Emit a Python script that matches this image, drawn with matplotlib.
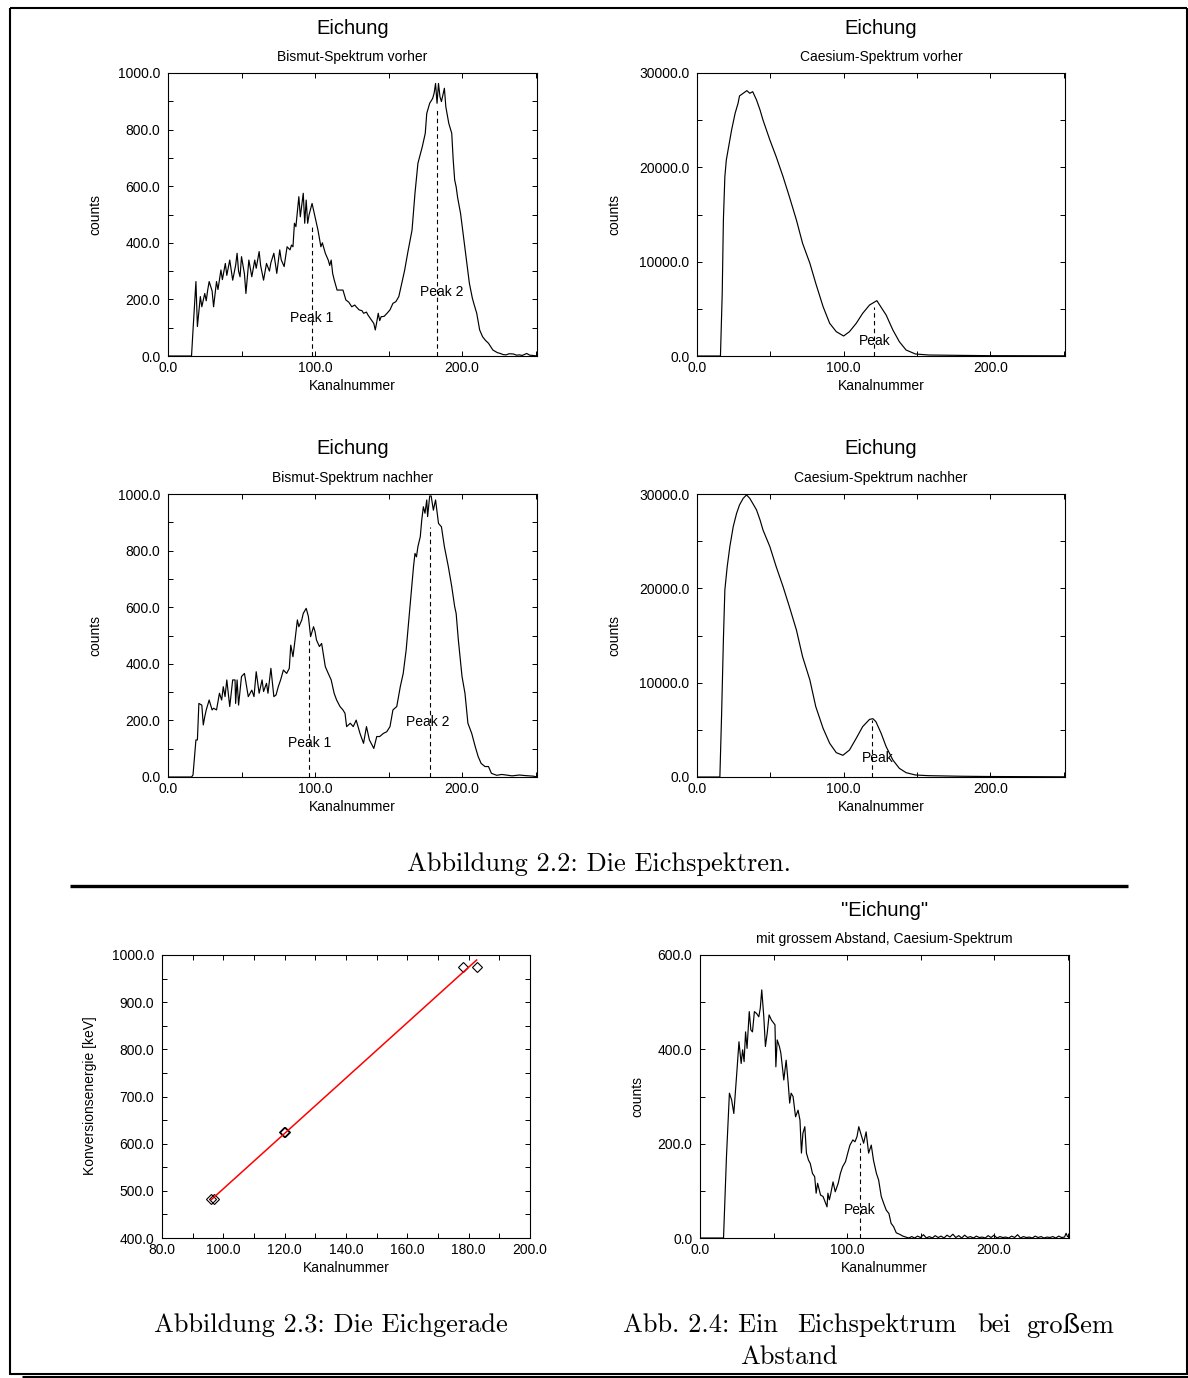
import numpy as np
import matplotlib.pyplot as plt
from matplotlib.ticker import MultipleLocator, FormatStrFormatter

plt.rcParams['font.family'] = ['Liberation Sans', 'DejaVu Sans']

W, H = 1188, 1378
SERIF = ['cmr10', 'DejaVu Serif']
CAP = 19

# Bismut-Spektrum vorher
bi_vor_ch = [0, 16, 17, 19, 20, 22, 23, 25, 26, 27, 28, 30, 31, 33, 34, 36, 37, 39, 40, 42,
             44, 46, 47, 48, 49, 50, 52, 53, 55, 57, 59, 60, 62, 63, 65, 67, 69, 70, 72, 74,
             76, 77, 79, 81, 83, 84, 85, 86, 87, 89, 90, 92, 93, 94, 95, 96, 98, 100, 102, 104,
             105, 107, 109, 110, 111, 112, 113, 115, 117, 119, 120, 121, 123, 125, 127, 128, 130, 132, 133, 135,
             136, 138, 140, 141, 142, 143, 144, 145, 147, 149, 151, 153, 155, 157, 158, 160, 161, 163, 166, 168,
             170, 173, 175, 176, 178, 180, 181, 182, 183, 184, 185, 186, 188, 189, 191, 193, 194, 195, 196, 197,
             199, 201, 203, 205, 207, 208, 210, 212, 214, 216, 218, 221, 224, 226, 228, 230, 232, 235, 237, 239,
             241, 244, 246, 248, 251]
bi_vor_counts = [0, 0, 90, 263, 104, 210, 174, 221, 195, 233, 263, 230, 174, 263, 235, 304, 270, 327, 285, 339,
                 268, 320, 363, 300, 280, 351, 290, 221, 339, 280, 339, 310, 369, 320, 268, 327, 300, 330, 363, 292,
                 375, 340, 316, 386, 375, 392, 386, 469, 457, 563, 492, 575, 469, 551, 469, 500, 539, 492, 445, 386,
                 400, 363, 339, 320, 339, 292, 270, 233, 233, 233, 215, 198, 190, 174, 180, 174, 163, 160, 151, 155,
                 145, 130, 115, 92, 120, 151, 125, 139, 140, 151, 163, 186, 192, 210, 233, 280, 304, 363, 445, 575,
                 681, 740, 787, 857, 893, 910, 928, 963, 893, 963, 916, 899, 946, 880, 822, 787, 693, 622, 598, 560,
                 504, 422, 339, 257, 205, 186, 151, 92, 68, 55, 45, 21, 12, 9, 5, 4, 8, 7, 3, 4,
                 2, 9, 3, 2, 0]
bi_vor_peaks = [98, 183]
bi_vor_peak_tops = [457, 869]
bi_vor_labels = ['Peak 1', 'Peak 2']
bi_vor_label_pos = [(98, 133), (186.5, 227)]

# Bismut-Spektrum nachher
bi_nach_ch = [0, 16, 17, 19, 20, 21, 23, 24, 25, 26, 28, 30, 31, 33, 35, 36.5, 37.6, 38.8, 40, 42,
              44, 45.6, 46, 47, 48, 50, 52, 54.6, 57, 58.5, 60, 62, 64, 65, 67, 68, 70, 72, 73.5, 75,
              76.6, 78.5, 80.7, 82.5, 83.5, 85, 86.4, 88, 89, 91, 92, 94, 95.5, 97, 99, 100, 101, 103, 104.5, 107,
              109, 111, 113, 114.7, 117, 119, 120.4, 121.5, 124, 126, 128, 130.6, 133, 135, 137, 140, 142, 144, 146.5, 148.8,
              151, 153, 155.6, 158, 160, 162, 164.6, 167, 168, 169, 170, 171.6, 172.6, 173.7, 174.8, 176, 176.6, 178, 179, 180.5,
              182, 184, 186, 188, 190.7, 193, 195, 196, 197.5, 200, 202, 204, 206.6, 209, 211, 213, 215.6, 218, 220, 223.6,
              227, 230, 234, 239, 243, 248.5, 251]
bi_nach_counts = [0, 0, 7, 131, 131, 260, 254, 184, 213, 237, 272, 237, 243, 237, 296, 272, 319, 284, 343, 249,
                  343, 343, 260, 343, 254, 355, 366, 284, 307, 284, 372, 296, 343, 302, 331, 296, 384, 284, 290, 319,
                  343, 378, 366, 384, 466, 425, 484, 555, 531, 555, 578, 596, 567, 496, 531, 514, 484, 461, 472, 390,
                  366, 343, 296, 272, 249, 237, 225, 178, 190, 178, 201, 154, 119, 178, 131, 101, 143, 143, 154, 160,
                  178, 237, 249, 319, 366, 449, 602, 743, 790, 778, 814, 849, 908, 955, 932, 979, 920, 993, 993, 943,
                  979, 896, 884, 814, 743, 673, 602, 578, 484, 355, 296, 190, 154, 107, 72, 48, 37, 37, 13, 6,
                  9, 7, 4, 7, 5, 3, 0]
bi_nach_peaks = [96, 178]
bi_nach_peak_tops = [496, 884]
bi_nach_labels = ['Peak 1', 'Peak 2']
bi_nach_label_pos = [(96.6, 119), (177, 196)]

# Caesium-Spektrum vorher
cs_vor_ch = [0, 16, 17.2, 18, 19, 20, 22, 23.6, 26, 28, 29, 31.5, 34, 36, 38, 40.6, 43, 45, 49.7, 54,
             58.7, 63, 67.8, 72, 77, 81, 86, 90.5, 95, 100, 104, 108.6, 113, 117.7, 122.7, 125.6, 129, 133.6, 138, 142.6,
             149, 158, 177, 199, 251]
cs_vor_counts = [0, 0, 6644, 14420, 19010, 20780, 22550, 23960, 25730, 26790, 27570, 27850, 28130, 27850, 28020, 27140, 26080, 25020, 22900, 21130,
                 19010, 16890, 14420, 11950, 9825, 7704, 5230, 3463, 2580, 2120, 2580, 3463, 4524, 5407, 5866, 5160, 4347, 2757, 1520, 636,
                 212, 106, 70, 35, 20]
cs_vor_peaks = [121]
cs_vor_peak_tops = [5230]
cs_vor_labels = ['Peak']
cs_vor_label_pos = [(121.5, 1625)]

# Caesium-Spektrum nachher
cs_nach_ch = [0, 15.6, 16.8, 18, 19, 20.6, 22.4, 24.7, 27, 29, 31.5, 33.8, 36, 38, 40.6, 43, 45, 49.7, 54, 58.7,
              63, 67.8, 72, 77, 81, 86, 90.5, 95, 99.5, 104, 108.6, 113, 117.7, 120, 122, 125.6, 129, 133.6, 138, 142.6,
              149, 158, 180, 200, 251]
cs_nach_counts = [0, 0, 6750, 14525, 19826, 22300, 24420, 26540, 27950, 28840, 29540, 29900, 29540, 29010, 28310, 27250, 26190, 24420, 22300, 20180,
                  18060, 15590, 12760, 10280, 7460, 5160, 3570, 2580, 2300, 2860, 4100, 5340, 6110, 6180, 5870, 4630, 3220, 1800, 920, 460,
                  212, 140, 80, 50, 20]
cs_nach_peaks = [119.5]
cs_nach_peak_tops = [6040]
cs_nach_labels = ['Peak']
cs_nach_label_pos = [(123.4, 1980)]

# Eichgerade
eich_kanal = [96.0, 97.0, 119.8, 120.2, 178.0, 182.6]
eich_energie = [481.7, 481.7, 624.2, 624.2, 975.6, 975.6]

# Caesium mit grossem Abstand
cs_ab_ch = [0, 16, 18, 20, 21.5, 23, 25, 26.5, 28, 29, 30, 31, 32, 33.5, 34.6, 35.7, 37, 38.5, 40, 41,
            42, 43.4, 44.5, 45.7, 47, 48.6, 51, 51.6, 52.5, 54, 55, 57, 58.6, 60, 61, 62, 63.3, 65, 66.7, 68,
            69, 70, 71.3, 72.4, 73.8, 75, 76.5, 78, 79, 80, 82, 83.7, 85.5, 86.4, 87, 88, 89, 90.5, 92, 94,
            95.5, 97, 99, 100.5, 102, 104, 105.4, 106.8, 108, 109.7, 111.3, 113, 114.7, 116.5, 118, 120, 121.5, 123.3, 125, 126.7,
            128.5, 130, 131.7, 133.5, 135.7, 138, 140, 142, 144, 146, 148, 150, 152, 154, 156, 158, 160, 162, 164, 166,
            168, 170, 172, 174, 176, 178, 180, 182, 184, 186, 188, 190, 192, 194, 196, 198, 200, 202, 204, 206,
            208, 210, 212, 214, 216, 218, 220, 222, 224, 226, 228, 230, 232, 234, 236, 238, 240, 242, 244, 246,
            248, 249, 250]
cs_ab_counts = [0, 0, 172, 307, 293, 264, 349, 416, 370, 399, 374, 437, 402, 480, 441, 437, 480, 476, 469, 487,
                526, 469, 406, 434, 473, 462, 452, 363, 420, 406, 392, 335, 377, 328, 286, 307, 300, 257, 271, 250,
                180, 222, 236, 180, 165, 158, 137, 130, 95, 116, 91, 88, 73, 66, 95, 81, 95, 119, 98, 116,
                137, 151, 162, 180, 197, 208, 204, 215, 236, 218, 201, 225, 180, 197, 165, 137, 123, 88, 73, 59,
                52, 31, 24, 11, 8, 4, 2, 0, 3, 0, 4, 1, 7, 0, 3, 0, 5, 1, 4, 0,
                6, 2, 8, 1, 5, 0, 6, 1, 3, 0, 4, 1, 2, 0, 5, 1, 6, 0, 3, 1,
                2, 0, 4, 1, 7, 0, 3, 1, 2, 0, 4, 1, 3, 0, 2, 1, 3, 0, 4, 1,
                2, 10, 3]
cs_ab_peaks = [108.6]
cs_ab_peak_tops = [201]
cs_ab_labels = ['Peak']
cs_ab_label_pos = [(108.6, 59)]


def px_axes(fig, left, top, right, bottom):
    return fig.add_axes([left / W, 1 - bottom / H, (right - left) / W, (bottom - top) / H])


def style_axes(ax, xlim, ylim, xmaj, xmin, ymaj, ymin):
    ax.set_xlim(*xlim)
    ax.set_ylim(*ylim)
    ax.xaxis.set_major_locator(MultipleLocator(xmaj))
    ax.xaxis.set_minor_locator(MultipleLocator(xmin))
    ax.yaxis.set_major_locator(MultipleLocator(ymaj))
    ax.yaxis.set_minor_locator(MultipleLocator(ymin))
    ax.xaxis.set_major_formatter(FormatStrFormatter('%.1f'))
    ax.yaxis.set_major_formatter(FormatStrFormatter('%.1f'))
    ax.tick_params(which='both', direction='in', top=True, right=True, length=3.5, width=0.7)
    ax.tick_params(axis='x', which='major', labelsize=10, pad=3.5)
    ax.tick_params(axis='y', which='major', labelsize=10, pad=5.5)
    for s in ax.spines.values():
        s.set_linewidth(0.8)


def spectrum(ax, ch, counts, peaks, tops, labels, label_pos):
    ax.plot(ch, counts, color='black', lw=0.85)
    for p, t in zip(peaks, tops):
        ax.plot([p, p], [0, t], color='black', lw=0.8, ls=(0, (4, 3)))
    for lab, (lx, ly) in zip(labels, label_pos):
        ax.text(lx, ly, lab, ha='center', va='center', fontsize=10)


fig = plt.figure(figsize=(W / 100, H / 100), dpi=100)

# overlay in pixel coordinates for frame, titles and captions
bg = fig.add_axes([0, 0, 1, 1])
bg.set_xlim(0, W)
bg.set_ylim(H, 0)
bg.axis('off')

panels = [
    (168, 73, 537, 356, bi_vor_ch, bi_vor_counts, bi_vor_peaks, bi_vor_peak_tops, bi_vor_labels, bi_vor_label_pos,
     (0, 1000), 200, 100, 'Eichung', 'Bismut-Spektrum vorher', 95),
    (697, 73, 1065, 356, cs_vor_ch, cs_vor_counts, cs_vor_peaks, cs_vor_peak_tops, cs_vor_labels, cs_vor_label_pos,
     (0, 30000), 10000, 5000, 'Eichung', 'Caesium-Spektrum vorher', 614),
    (168, 494, 537, 777, bi_nach_ch, bi_nach_counts, bi_nach_peaks, bi_nach_peak_tops, bi_nach_labels, bi_nach_label_pos,
     (0, 1000), 200, 100, 'Eichung', 'Bismut-Spektrum nachher', 95),
    (697, 494, 1065, 777, cs_nach_ch, cs_nach_counts, cs_nach_peaks, cs_nach_peak_tops, cs_nach_labels, cs_nach_label_pos,
     (0, 30000), 10000, 5000, 'Eichung', 'Caesium-Spektrum nachher', 614),
    (700, 955, 1069, 1238, cs_ab_ch, cs_ab_counts, cs_ab_peaks, cs_ab_peak_tops, cs_ab_labels, cs_ab_label_pos,
     (0, 600), 200, 100, '"Eichung"', 'mit grossem Abstand, Caesium-Spektrum', 637),
]

for (l, t, r, b, ch, counts, peaks, tops, labels, lpos, ylim, ymaj, ymin, title, sub, ylab_x) in panels:
    ax = px_axes(fig, l, t, r, b)
    spectrum(ax, ch, counts, peaks, tops, labels, lpos)
    style_axes(ax, (0, 251), ylim, 100, 50, ymaj, ymin)
    cx = (l + r) / 2
    bg.text(cx, t - 45, title, ha='center', va='center', fontsize=14.5)
    bg.text(cx, t - 16, sub, ha='center', va='center', fontsize=10)
    bg.text(cx, b + 30, 'Kanalnummer', ha='center', va='center', fontsize=10)
    bg.text(ylab_x, (t + b) / 2, 'counts', ha='center', va='center', rotation=90, fontsize=10)

# Eichgerade
ax = px_axes(fig, 162, 955, 530, 1238)
slope, icpt = np.polyfit(eich_kanal, eich_energie, 1)
xfit = np.array([min(eich_kanal), max(eich_kanal)])
ax.plot(eich_kanal, eich_energie, ls='none', marker='D', ms=5, mfc='none', mec='black', mew=0.8)
ax.plot(xfit, slope * xfit + icpt, color='red', lw=1.1)
style_axes(ax, (80, 200), (400, 1000), 20, 10, 100, 50)
bg.text(346, 1268, 'Kanalnummer', ha='center', va='center', fontsize=10)
bg.text(90, 1096, 'Konversionsenergie [keV]', ha='center', va='center', rotation=90, fontsize=10)

# captions
bg.text(599, 864, 'Abbildung 2.2: Die Eichspektren.', ha='center', va='center', fontsize=CAP, family=SERIF)
bg.text(331, 1325, 'Abbildung 2.3: Die Eichgerade', ha='center', va='center', fontsize=CAP, family=SERIF)
bg.text(623, 1325, 'Abb. 2.4: Ein', ha='left', va='center', fontsize=CAP, family=SERIF)
bg.text(797, 1325, 'Eichspektrum', ha='left', va='center', fontsize=CAP, family=SERIF)
bg.text(977, 1325, 'bei', ha='left', va='center', fontsize=CAP, family=SERIF)
bg.text(1114, 1325, 'großem', ha='right', va='center', fontsize=CAP, family=SERIF)
bg.text(740, 1357, 'Abstand', ha='left', va='center', fontsize=CAP, family=SERIF)

# rule and frame
bg.plot([70, 1128], [886, 886], color='black', lw=2.4, solid_capstyle='butt')
bg.plot([10, 10], [8, 1375], color='black', lw=1.5, solid_capstyle='butt')
bg.plot([10, 1187], [8, 8], color='black', lw=1.5, solid_capstyle='butt')
bg.plot([1187, 1187], [8, 1375], color='black', lw=1.5, solid_capstyle='butt')
bg.plot([10, 1188], [1374, 1374], color='black', lw=1.5, solid_capstyle='butt')
bg.plot([22, 1188], [1377, 1377], color='black', lw=2.2, solid_capstyle='butt')

fig.savefig('out.png', dpi=100)
